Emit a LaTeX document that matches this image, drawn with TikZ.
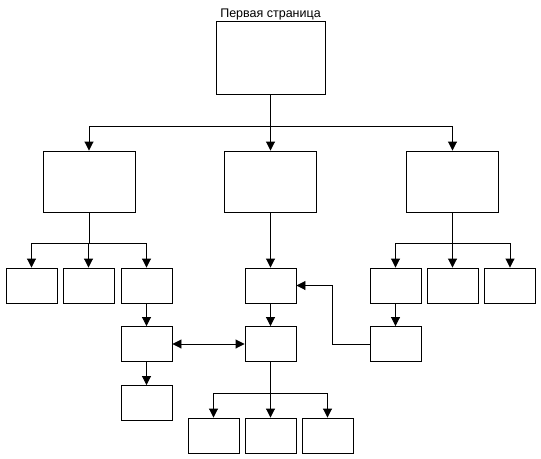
\documentclass[tikz,border=0pt]{standalone}
\usepackage{fontspec}
\setmainfont{Liberation Sans}
\usetikzlibrary{arrows.meta}
\begin{document}
\begin{tikzpicture}[x=1pt,y=-1pt,
  box/.style={draw,line width=0.9pt,inner sep=0pt,rectangle},
  big/.style={box,minimum width=109pt,minimum height=73pt},
  mid/.style={box,minimum width=92pt,minimum height=61pt},
  sm/.style={box,minimum width=51pt,minimum height=35pt},
  ln/.style={line width=0.9pt},
  arr/.style={ln,-{Triangle[length=9pt,width=9pt]}},
  barr/.style={ln,{Triangle[length=9pt,width=9pt]}-{Triangle[length=9pt,width=9pt]}}]
\useasboundingbox (0,0) rectangle (541,458);
\node[font=\fontsize{12.5}{14}\selectfont,anchor=base] (title) at (270.5,17) {Первая страница};
\node[big] (top) at (270.5,57.5) {};
\node[mid] (L) at (89,181.5) {};
\node[mid] (M) at (270.5,181.5) {};
\node[mid] (R) at (452.5,181.5) {};
\node[sm] (a1) at (31.5,285.5) {};
\node[sm] (a2) at (88.5,285.5) {};
\node[sm] (a3) at (146.5,285.5) {};
\node[sm] (b3) at (270.5,285.5) {};
\node[sm] (c1) at (395.5,285.5) {};
\node[sm] (c2) at (452.5,285.5) {};
\node[sm] (c3) at (510,285.5) {};
\node[sm] (a4) at (146.5,344) {};
\node[sm] (b4) at (270.5,344) {};
\node[sm] (c4) at (395.5,344) {};
\node[sm] (a5) at (146.5,403) {};
\node[sm] (d1) at (213.5,435.5) {};
\node[sm] (d2) at (270.5,435.5) {};
\node[sm] (d3) at (327.5,435.5) {};
% top branch
\coordinate (j1) at (270.5,126);
\draw[ln] (top.south) -- (j1);
\draw[ln] (j1 -| L) -- (j1 -| R);
\draw[arr] (j1 -| L) -- (L.north);
\draw[arr] (j1) -- (M.north);
\draw[arr] (j1 -| R) -- (R.north);
% left branch
\coordinate (j2) at (89,243);
\draw[ln] (L.south) -- (j2);
\draw[ln] (j2 -| a1) -- (j2 -| a3);
\draw[arr] (j2 -| a1) -- (a1.north);
\draw[arr] (j2 -| a2) -- (a2.north);
\draw[arr] (j2 -| a3) -- (a3.north);
% right branch
\coordinate (j3) at (452.5,243);
\draw[ln] (R.south) -- (j3);
\draw[ln] (j3 -| c1) -- (j3 -| c3);
\draw[arr] (j3 -| c1) -- (c1.north);
\draw[arr] (j3 -| c2) -- (c2.north);
\draw[arr] (j3 -| c3) -- (c3.north);
% middle
\draw[arr] (M.south) -- (b3.north);
\draw[arr] (b3.south) -- (b4.north);
\draw[arr] (a3.south) -- (a4.north);
\draw[arr] (a4.south) -- (a5.north);
\draw[arr] (c1.south) -- (c4.north);
\draw[barr] (a4.east) -- (b4.west);
\coordinate (k) at (332.5,344);
\draw[arr] (c4.west) -- (k) |- (b3.east);
% bottom
\coordinate (j4) at (270.5,393);
\draw[ln] (b4.south) -- (j4);
\draw[ln] (j4 -| d1) -- (j4 -| d3);
\draw[arr] (j4 -| d1) -- (d1.north);
\draw[arr] (j4) -- (d2.north);
\draw[arr] (j4 -| d3) -- (d3.north);
\end{tikzpicture}
\end{document}
